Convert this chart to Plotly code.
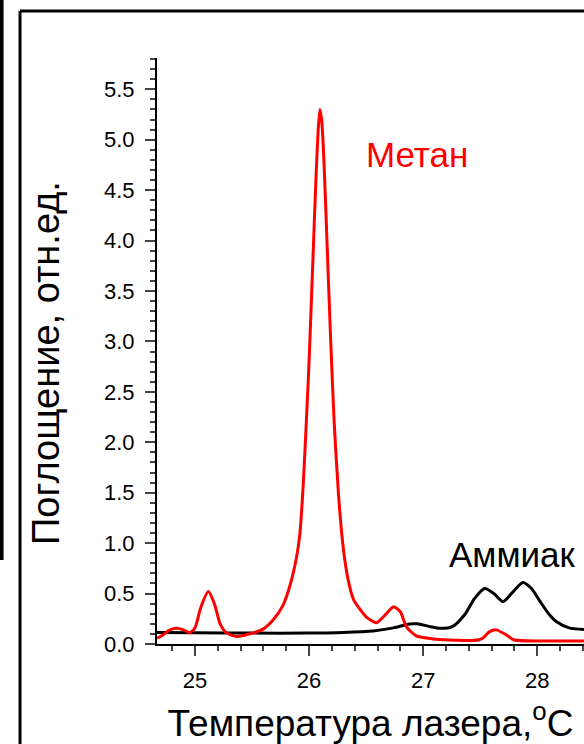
import plotly.graph_objects as go

# Метан (red)
methane_t = [24.667, 24.72, 24.78, 24.84, 24.90, 24.956, 25.00, 25.05, 25.117, 25.17, 25.22, 25.277,
             25.365, 25.48, 25.60, 25.686, 25.77, 25.83, 25.89, 25.92, 25.95, 25.98, 26.0, 26.03, 26.06,
             26.08, 26.095, 26.11, 26.13, 26.16, 26.19, 26.22, 26.26, 26.30, 26.34, 26.39, 26.5, 26.59,
             26.66, 26.74, 26.80, 26.854, 26.94, 27.09, 27.145, 27.44, 27.52, 27.58, 27.64, 27.73,
             27.80, 28.02, 28.41]
methane_v = [0.057, 0.09, 0.14, 0.155, 0.14, 0.112, 0.16, 0.36, 0.52, 0.40, 0.20, 0.11,
             0.075, 0.10, 0.15, 0.24, 0.38, 0.57, 0.86, 1.1, 1.6, 2.3, 2.8, 3.7, 4.6,
             5.1, 5.3, 5.2, 4.8, 3.9, 3.0, 2.2, 1.45, 0.95, 0.65, 0.44, 0.27, 0.21,
             0.28, 0.37, 0.32, 0.17, 0.08, 0.05, 0.045, 0.035, 0.056, 0.12, 0.14, 0.089,
             0.04, 0.03, 0.03]

# Аммиак (black)
ammonia_t = [24.667, 25.0, 25.5, 25.98, 26.3, 26.56, 26.74, 26.88, 26.95, 27.05, 27.15, 27.26,
             27.37, 27.45, 27.54, 27.62, 27.70, 27.79, 27.875, 27.95, 28.02, 28.10, 28.17, 28.28, 28.41]
ammonia_v = [0.115, 0.112, 0.108, 0.108, 0.115, 0.13, 0.16, 0.198, 0.2, 0.175, 0.155, 0.175,
             0.30, 0.45, 0.55, 0.50, 0.42, 0.52, 0.61, 0.55, 0.43, 0.30, 0.22, 0.16, 0.145]

x_ticks = [25, 26, 27, 28]
y_ticks = [0.0, 0.5, 1.0, 1.5, 2.0, 2.5, 3.0, 3.5, 4.0, 4.5, 5.0, 5.5]
y_tick_labels = ["0.0", "0.5", "1.0", "1.5", "2.0", "2.5", "3.0", "3.5", "4.0", "4.5", "5.0", "5.5"]

FONT = "Liberation Sans, Arial, sans-serif"

fig = go.Figure()
fig.add_trace(go.Scatter(x=ammonia_t, y=ammonia_v, mode="lines",
                         line=dict(color="black", width=3, shape="spline", smoothing=0.7),
                         showlegend=False, name="Аммиак"))
fig.add_trace(go.Scatter(x=methane_t, y=methane_v, mode="lines",
                         line=dict(color="#ff0000", width=3, shape="spline", smoothing=0.6),
                         showlegend=False, name="Метан"))

fig.add_annotation(x=26.95, y=4.85, xref="x", yref="y", text="Метан", showarrow=False,
                   font=dict(family=FONT, size=35, color="#ff0000"))
fig.add_annotation(x=27.78, y=0.89, xref="x", yref="y", text="Аммиак", showarrow=False,
                   font=dict(family=FONT, size=35, color="black"))
# y axis title
fig.add_annotation(x=-0.26, y=0.4795, xref="paper", yref="paper", text="Поглощение, отн.ед.",
                   showarrow=False, textangle=-90, xanchor="center", yanchor="middle",
                   font=dict(family=FONT, size=38, color="black"))

# frame lines
fig.add_shape(type="line", xref="paper", yref="paper", x0=-0.3208, x1=1.05, y0=1.0802, y1=1.0802,
              line=dict(color="black", width=3))
fig.add_shape(type="line", xref="paper", yref="paper", x0=-0.3208, x1=-0.3208, y0=1.0802, y1=-0.3,
              line=dict(color="black", width=3))
fig.add_shape(type="line", xref="paper", yref="paper", x0=-0.364, x1=-0.364, y0=1.2, y1=0.1433,
              line=dict(color="black", width=4))

fig.update_layout(
    width=584, height=744,
    margin=dict(l=157, r=0, t=58, b=100),
    paper_bgcolor="white", plot_bgcolor="white",
    font=dict(family=FONT, color="black"),
    xaxis=dict(range=[24.667, 28.41], tickvals=x_ticks, ticks="outside", ticklen=10, tickwidth=2,
               showline=True, linecolor="black", linewidth=2, showgrid=False, zeroline=False,
               tickfont=dict(size=22), ticklabelstandoff=6, automargin=False,
               minor=dict(dtick=0.2, tick0=25, ticks="outside", ticklen=5, tickwidth=2, showgrid=False),
               title=dict(text="Температура лазера,<sup>o</sup>C", font=dict(size=37), standoff=28)),
    yaxis=dict(range=[0, 5.81], tickvals=y_ticks, ticktext=y_tick_labels, ticks="outside", ticklen=10,
               tickwidth=2, showline=True, linecolor="black", linewidth=2, showgrid=False, zeroline=False,
               tickfont=dict(size=22), ticklabelstandoff=6, automargin=False,
               minor=dict(dtick=0.1, tick0=0, ticks="outside", ticklen=5, tickwidth=2, showgrid=False)),
)

fig.write_html("out.html")
